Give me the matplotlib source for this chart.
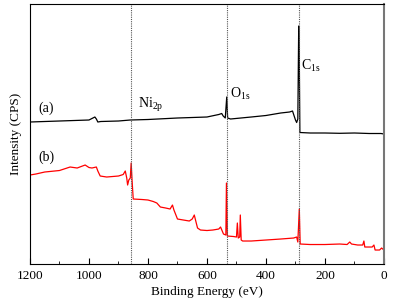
import numpy as np
import matplotlib.pyplot as plt
from matplotlib.ticker import MultipleLocator

# Spektrum (a): Bindungsenergie [eV] und Intensitaet (willk. Einheit)
ev_a = [1200, 1150, 1100, 1050, 1000, 990, 980, 975, 970, 960, 900, 860, 800,
        700, 600, 560, 550, 545, 538, 533, 530, 520, 450, 400, 350, 320, 310,
        300, 296, 292, 289, 287, 285, 250, 200, 150, 100, 50, 10, 0]
int_a = [142, 142.5, 143, 143.5, 144, 145.5, 147, 145, 142, 142.5, 143, 144,
         144.5, 146, 147, 149.5, 150.5, 148, 146, 167, 146, 145, 147, 148.5,
         151, 152, 153, 144, 141.5, 145, 238, 204, 131.5, 131, 131, 130.7,
         131, 130.5, 130.5, 130]

# Spektrum (b)
ev_b = [1200, 1180, 1150, 1100, 1064, 1040, 1013, 1000, 990, 975, 970, 962,
        940, 920, 900, 884, 877, 872, 869, 865, 860, 857, 854, 850, 820, 800,
        782, 770, 758, 740, 725, 717, 712, 700, 680, 660, 650, 643, 638, 632,
        622, 600, 580, 560, 554, 544, 536, 534, 531, 510, 500, 497, 494, 489,
        487, 484, 479, 450, 400, 350, 306, 296, 292, 287, 284, 250, 200, 150,
        125, 116, 110, 89, 72, 68, 65, 40, 34, 30, 15, 8, 0]
int_b = [89, 90, 92, 93.5, 97, 96, 99, 96.5, 96, 97, 93, 88, 87, 87.5, 88,
         89.5, 93, 86, 79, 84, 86, 101, 84, 65, 64.5, 64, 62.5, 61, 57, 56,
         55, 59, 54, 45, 44, 43, 45, 49, 43, 36, 34, 33.5, 34, 35, 37, 30, 29,
         81, 28, 27.5, 27, 41, 26, 27, 49, 24, 23, 23, 24, 25, 26, 27, 22, 55,
         20, 19.5, 19.5, 20, 19.5, 22, 20, 19, 19, 23, 17, 17, 19, 14, 14, 16,
         14]

# Peaklagen
peak_ev = [858, 532, 287]

plt.rcParams['font.family'] = ['Liberation Serif', 'DejaVu Serif']

fig = plt.figure(figsize=(3.93, 3.07), dpi=100)
ax = fig.add_axes([0.0763, 0.140, 0.9007, 0.847])

ax.plot(ev_a, int_a, color='black', lw=0.9)
ax.plot(ev_b, int_b, color='red', lw=0.9)

for p in peak_ev:
    ax.axvline(p, color='#555555', ls=(0, (1, 1)), lw=0.8)

ax.set_xlim(1200, 0)
ax.set_ylim(0, 260)
ax.xaxis.set_major_locator(MultipleLocator(200))
ax.xaxis.set_minor_locator(MultipleLocator(100))
ax.tick_params(axis='x', which='both', direction='in', labelsize=9.5, pad=4)
ax.tick_params(axis='x', which='major', length=4)
ax.tick_params(axis='x', which='minor', length=2.5)
ax.set_yticks([])
ax.spines['right'].set_color('#777777')
ax.spines['right'].set_linewidth(1.5)

ax.set_xlabel('Binding Energy (eV)', fontsize=9.5, labelpad=3)
ax.set_ylabel('Intensity (CPS)', fontsize=9.5, labelpad=6)

# Beschriftungen
ax.text(1170, 156, '(a)', fontsize=10, va='center')
ax.text(1170, 107, '(b)', fontsize=10, va='center')
ax.text(835, 159, r'Ni$_{\mathregular{2p}}$', fontsize=10, va='center')
ax.text(522, 170, r'O$_{\mathregular{1s}}$', fontsize=10, va='center')
ax.text(280, 198, r'C$_{\mathregular{1s}}$', fontsize=10, va='center')

plt.savefig('out.png', dpi=100)
